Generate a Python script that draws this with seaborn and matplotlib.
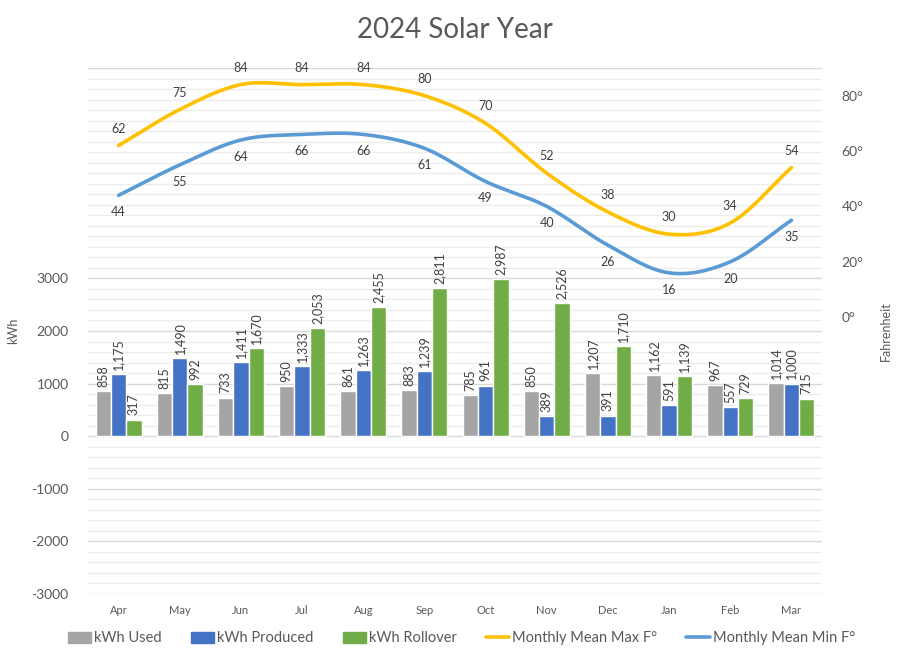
import matplotlib
matplotlib.use("Agg")
import matplotlib.pyplot as plt
import matplotlib.patches as mpatches
import matplotlib.lines as mlines
import numpy as np
import pandas as pd
import seaborn as sns

months = ['Apr', 'May', 'Jun', 'Jul', 'Aug', 'Sep', 'Oct', 'Nov', 'Dec', 'Jan', 'Feb', 'Mar']
kwh_used = [858, 815, 733, 950, 861, 883, 785, 850, 1207, 1162, 967, 1014]
kwh_produced = [1175, 1490, 1411, 1333, 1263, 1239, 961, 389, 391, 591, 557, 1000]
kwh_rollover = [317, 992, 1670, 2053, 2455, 2811, 2987, 2526, 1710, 1139, 729, 715]
temp_max = [62, 75, 84, 84, 84, 80, 70, 52, 38, 30, 34, 54]
temp_min = [44, 55, 64, 66, 66, 61, 49, 40, 26, 16, 20, 35]

series = ['kWh Used', 'kWh Produced', 'kWh Rollover']
df = pd.DataFrame({
    'month': months * 3,
    'kwh': kwh_used + kwh_produced + kwh_rollover,
    'series': [s for s in series for _ in months],
})
bar_colors = ['#A5A5A5', '#4472C4', '#70AD47']
max_color = '#FFC000'
min_color = '#5B9BD5'
txt = '#595959'

sns.set_style("white")
plt.rcParams['font.family'] = ['Lato', 'DejaVu Sans']
plt.rcParams['axes.unicode_minus'] = False


def smooth(y, n=30):
    # catmull-rom curve through the points, like excel's smoothed line
    y = np.asarray(y, dtype=float)
    x = np.arange(len(y), dtype=float)
    px = np.concatenate([[2 * x[0] - x[1]], x, [2 * x[-1] - x[-2]]])
    py = np.concatenate([[2 * y[0] - y[1]], y, [2 * y[-1] - y[-2]]])
    xs, ys = [], []
    t = np.linspace(0, 1, n)
    for i in range(1, len(px) - 2):
        for arr, out in ((px, xs), (py, ys)):
            p0, p1, p2, p3 = arr[i - 1], arr[i], arr[i + 1], arr[i + 2]
            out.append(0.5 * (2 * p1 + (-p0 + p2) * t + (2 * p0 - 5 * p1 + 4 * p2 - p3) * t ** 2
                              + (-p0 + 3 * p1 - 3 * p2 + p3) * t ** 3))
    return np.concatenate(xs), np.concatenate(ys)


fig = plt.figure(figsize=(9.1, 6.62), dpi=100)
ax = fig.add_axes([0.0967, 0.1027, 0.8066, 0.7946])

sns.barplot(data=df, x='month', y='kwh', hue='series', palette=bar_colors,
            width=0.75, saturation=1, ax=ax, legend=False)

ax.set_ylim(-3000, 7000)
ax.set_yticks(range(-3000, 3001, 1000))
ax.set_yticks(range(-3000, 7001, 200), minor=True)
ax.grid(axis='y', which='major', color='#D9D9D9', lw=1)
ax.grid(axis='y', which='minor', color='#EDEDED', lw=1)
ax.axhline(7000, color='#D9D9D9', lw=1)
ax.set_axisbelow(True)
ax.set_xlim(-0.5, 11.5)
ax.tick_params(axis='y', which='both', labelsize=10, colors=txt, length=0, pad=14)
ax.tick_params(axis='x', labelsize=8, colors=txt, length=0, pad=8)
ax.set_xticks(range(12))
ax.set_xticklabels(months)
ax.set_xlabel('')
ax.set_ylabel('kWh', fontsize=9, color=txt, labelpad=9)
for s in ax.spines.values():
    s.set_visible(False)

for cont in ax.containers:
    ax.bar_label(cont, labels=[f'{v:,.0f}' for v in cont.datavalues],
                 rotation=90, padding=3, fontsize=9, color='#404040')

ax2 = ax.twinx()
ax2.set_ylim(-100, 90)
ax2.set_yticks(range(0, 81, 20))
ax2.set_yticklabels([f'{v}°' for v in range(0, 81, 20)])
ax2.tick_params(axis='y', labelsize=10, colors=txt, length=0, pad=14)
ax2.set_ylabel('Fahrenheit', fontsize=9, color=txt, labelpad=12)
for s in ax2.spines.values():
    s.set_visible(False)

for vals, col, sign in ((temp_max, max_color, 1), (temp_min, min_color, -1)):
    xs, ys = smooth(vals)
    ax2.plot(xs, ys, color=col, lw=2.6, solid_capstyle='round')
    for i, v in enumerate(vals):
        ax2.annotate(str(v), (i, v), xytext=(0, sign * 17), textcoords='offset pixels',
                     ha='center', va='center', fontsize=9, color='#404040')

fig.text(0.5, 0.955, '2024 Solar Year', ha='center', va='center', fontsize=20, color=txt)

handles = [mpatches.Patch(color=c, label=s) for c, s in zip(bar_colors, series)]
handles += [mlines.Line2D([], [], color=max_color, lw=2.6, label='Monthly Mean Max F°'),
            mlines.Line2D([], [], color=min_color, lw=2.6, label='Monthly Mean Min F°')]
fig.legend(handles=handles, loc='center', bbox_to_anchor=(0.507, 0.036), ncol=5, frameon=False,
           fontsize=10.5, labelcolor=txt, handlelength=1.6, handleheight=0.8,
           handletextpad=0.2, columnspacing=2.0)

fig.savefig('out.png', dpi=100)
